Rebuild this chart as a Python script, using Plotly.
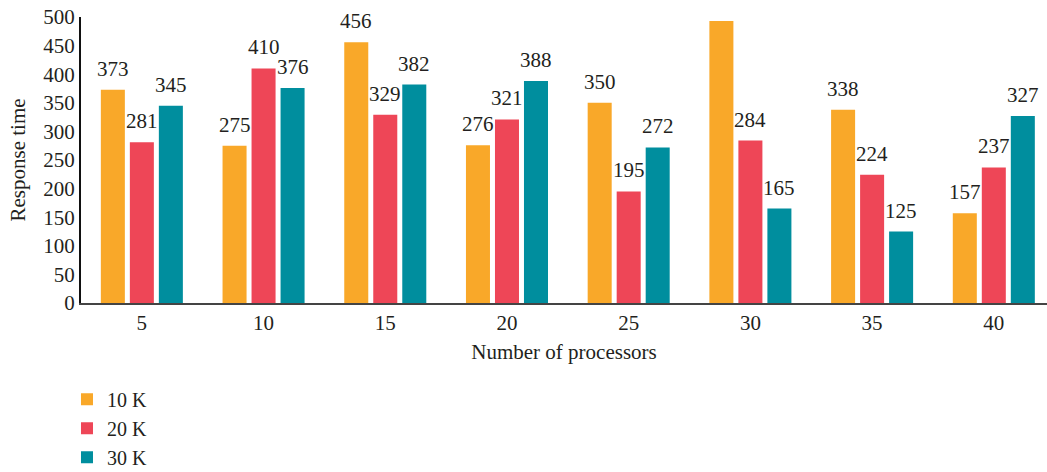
import plotly.graph_objects as go

categories = ["5", "10", "15", "20", "25", "30", "35", "40"]
series_names = ["10 K", "20 K", "30 K"]
vals_10k = [373, 275, 456, 276, 350, 493, 338, 157]
vals_20k = [281, 410, 329, 321, 195, 284, 224, 237]
vals_30k = [345, 376, 382, 388, 272, 165, 125, 327]
colors = ["#F9A829", "#EE4657", "#008E9E"]

FONT = "Liberation Serif"
FS = 21
series = [vals_10k, vals_20k, vals_30k]

fig = go.Figure()
for i, (name, vals) in enumerate(zip(series_names, series)):
    fig.add_trace(go.Bar(
        name=name, x=categories, y=vals, marker_color=colors[i],
        marker_line_width=0, legendgroup=name,
    ))

# value labels above bars
ymax = 500
slot = (1 - 0.285) / 3
for i, vals in enumerate(series):
    off = (i - 1) * slot
    for j, v in enumerate(vals):
        if v > ymax - 20:
            continue
        fig.add_annotation(
            x=j + off, y=v, text=str(v), showarrow=False,
            xref="x", yref="y", yanchor="bottom", yshift=7,
            font=dict(family=FONT, size=FS, color="#231F20"),
        )

fig.update_layout(
    width=1047, height=472,
    margin=dict(l=81, r=0, t=17, b=169, autoexpand=False),
    paper_bgcolor="white", plot_bgcolor="white",
    barmode="group", bargap=0.285, bargroupgap=0.172,
    font=dict(family=FONT, size=FS, color="#231F20"),
    showlegend=True,
    legend=dict(
        x=-0.0145, y=-0.268, xanchor="left", yanchor="top",
        orientation="v", tracegroupgap=0,
        font=dict(family=FONT, size=20, color="#231F20"),
        bgcolor="rgba(0,0,0,0)",
    ),
    xaxis=dict(
        type="category", range=[-0.5, 7.437],
        showline=True, linecolor="#444444", linewidth=2,
        ticks="", showgrid=False, zeroline=False,
        title=dict(text="Number of processors", standoff=10,
                   font=dict(family=FONT, size=FS)),
        tickfont=dict(family=FONT, size=FS),
    ),
    yaxis=dict(
        range=[0, 500], dtick=50,
        showline=True, linecolor="#111111", linewidth=2,
        ticks="", showgrid=False, zeroline=False,
        title=dict(text="Response time", standoff=12,
                   font=dict(family=FONT, size=FS)),
        tickfont=dict(family=FONT, size=FS),
    ),
)

fig.write_html("out.html")
